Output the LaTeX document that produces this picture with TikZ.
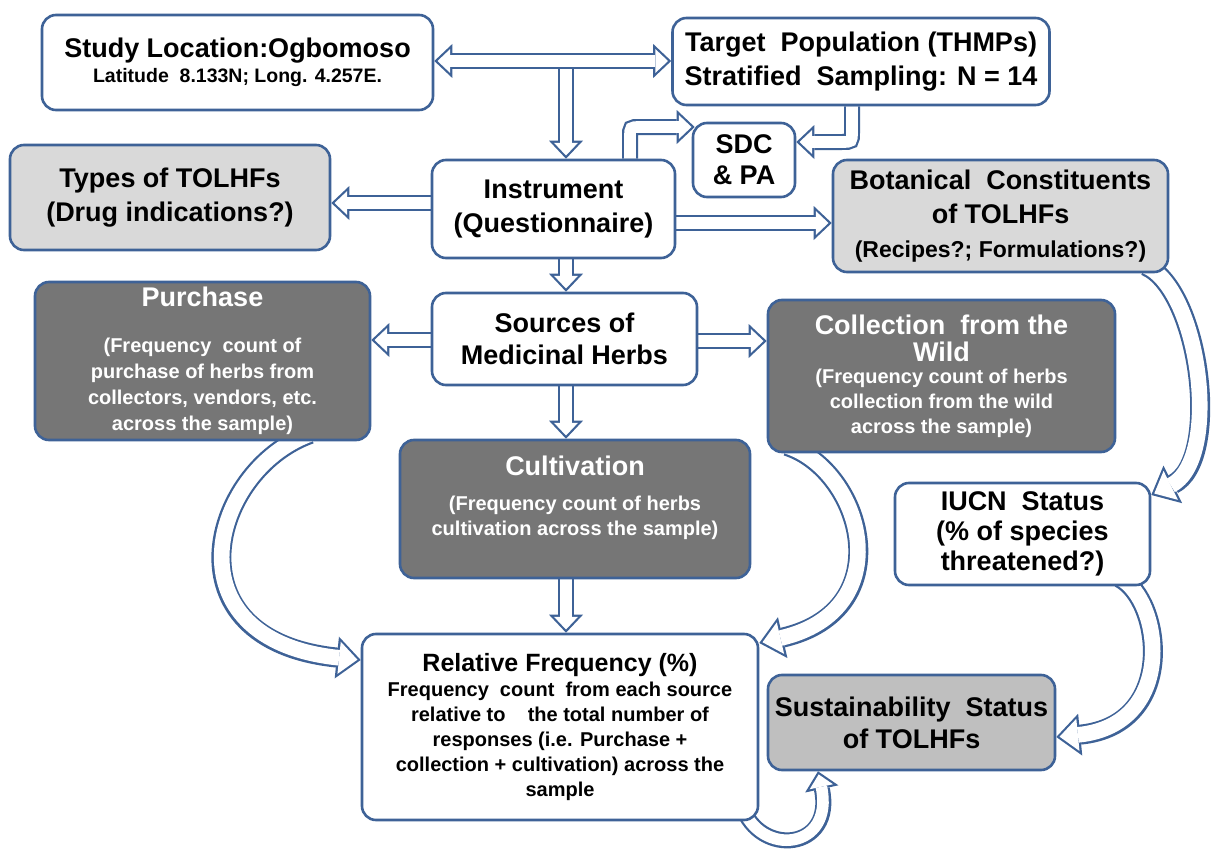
\documentclass[tikz,border=0pt]{standalone}
\usepackage{fontspec}
\setmainfont{Liberation Sans}
\usetikzlibrary{arrows.meta}

\pgfdeclarelayer{bg}
\pgfsetlayers{bg,main}

\definecolor{boxblue}{HTML}{3E6297}
\definecolor{darkbox}{HTML}{767676}
\definecolor{lightbox}{HTML}{D9D9D9}
\definecolor{midbox}{HTML}{BFBFBF}

\newcommand{\fsA}{\fontsize{27}{34}\selectfont}
\newcommand{\fsB}{\fontsize{20}{25}\selectfont}
\newcommand{\fsC}{\fontsize{19.5}{24}\selectfont}
\newcommand{\fsD}{\fontsize{23}{28}\selectfont}
\newcommand{\fsE}{\fontsize{25}{30}\selectfont}

\tikzset{
  blk/.style={draw=boxblue, line width=16pt},
  blkin/.style={draw=white, line width=11.6pt},
  tipout/.style={-{Triangle[length=18pt,width=34pt,line width=0pt]}},
  tipin/.style={shorten >=3.2pt, -{Triangle[length=12.6pt,width=23.8pt,line width=0pt]}},
  tipsout/.style={{Triangle[length=18pt,width=34pt,line width=0pt]}-{Triangle[length=18pt,width=34pt,line width=0pt]}},
  tipsin/.style={shorten >=3.2pt, shorten <=3.2pt,
    {Triangle[length=12.6pt,width=23.8pt,line width=0pt]}-{Triangle[length=12.6pt,width=23.8pt,line width=0pt]}},
  cblk/.style={draw=boxblue, line width=20pt, -{Triangle[length=24pt,width=42pt,line width=0pt]}},
  cblkin/.style={draw=white, line width=15.6pt, shorten >=3.3pt,
    -{Triangle[length=18.4pt,width=32.3pt,line width=0pt]}},
}
\newcommand{\blkarrow}[1]{\draw[blk,tipout] #1; \draw[blkin,tipin] #1;}
\newcommand{\blkboth}[1]{\draw[blk,tipsout] #1; \draw[blkin,tipsin] #1;}
\newcommand{\curvarrow}[1]{\draw[cblk] #1; \draw[cblkin] #1;}

\begin{document}
\begin{tikzpicture}[x=1pt, y=-1pt]
  \useasboundingbox (0,0) rectangle (1211,851);

  \begin{scope}[every node/.style={draw=boxblue, line width=2.6pt, rounded corners=14pt,
      fill=white, inner sep=0pt, align=center, font=\bfseries\fsA}]
    \node[minimum width=391pt, minimum height=95pt, font=\bfseries\fsB] (study) at (237.5,62.5)
      {{\fsA Study Location:Ogbomoso}\\{\fsC Latitude\ \ 8.133N; Long. 4.257E.}};
    \node[minimum width=377pt, minimum height=87pt] (target) at (861,61.5)
      {Target\ \ Population (THMPs)\\Stratified\ \ Sampling: N = 14};
    \node[minimum width=102pt, minimum height=74pt, font=\bfseries\fontsize{27}{31}\selectfont] (sdc) at (744,160)
      {SDC\\\& PA};
    \node[minimum width=320pt, minimum height=105pt, fill=lightbox] (types) at (170,197.5)
      {Types of TOLHFs\\(Drug indications?)};
    \node[minimum width=243pt, minimum height=98pt] (inst) at (553.5,209)
      {Instrument\\(Questionnaire)};
    \node[minimum width=335pt, minimum height=112pt, fill=lightbox] (bot) at (1000.5,216)
      {Botanical\ \ Constituents\\of TOLHFs\\{\fsD (Recipes?; Formulations?)}};
    \node[minimum width=265pt, minimum height=92pt, font=\bfseries\fontsize{27}{32}\selectfont] (src) at (564.5,339)
      {Sources of\\Medicinal Herbs};
    \node[minimum width=335pt, minimum height=158pt, fill=darkbox, text=white,
        font=\bfseries\fontsize{20}{26}\selectfont] (purch) at (202.5,361)
      {{\fsA Purchase}\\[20pt](Frequency\ \ count of\\purchase of herbs from\\collectors, vendors, etc.\\across the sample)};
    \node[minimum width=347pt, minimum height=152pt, fill=darkbox, text=white, font=\bfseries\fsB] (coll) at (941.5,376)
      {{\fsA Collection\ \ from the}\\[2pt]{\fsA Wild}\\[-3pt](Frequency count of herbs\\collection from the wild\\across the sample)};
    \node[minimum width=350pt, minimum height=138pt, fill=darkbox] (cult) at (575,509) {};
    \node[minimum width=396pt, minimum height=186pt, font=\bfseries\fsB] (relf) at (560,727)
      {{\fsE Relative Frequency (\%)}\\Frequency\ \ count\ \ from each source\\relative to\ \ \ \ the total number of\\responses (i.e. Purchase +\\collection + cultivation) across the\\sample};
    \node[minimum width=255pt, minimum height=102pt, font=\bfseries\fontsize{27}{30}\selectfont] (iucn) at (1022.5,534)
      {IUCN\ \ Status\\(\% of species\\threatened?)};
    \node[minimum width=287pt, minimum height=95pt, fill=midbox, font=\bfseries\fontsize{27}{32}\selectfont] (sust) at (911.5,722.5)
      {Sustainability\ \ Status\\of TOLHFs};
  \end{scope}

  \node[align=center, text=white, font=\bfseries\fsB] (culttxt) at (575,498)
    {{\fsA Cultivation}\\[10pt](Frequency count of herbs\\cultivation across the sample)};

  \begin{pgfonlayer}{bg}
    \fill[white] (0,0) rectangle (1211,851);
    \coordinate (spine) at (566,61);
    \coordinate (purchtail) at (310,434);
    \coordinate (colltail) at (787,446);
    \coordinate (bottail) at (1146,266);
    \coordinate (iucntail) at (1120,578);
    \coordinate (relftail) at (742,806);

    \blkarrow{(spine) -- (spine |- inst.north)}
    \blkboth{(study.east |- spine) -- (target.west |- spine)}
    \blkarrow{(inst.north -| 630,0) -- (630,137) .. controls (630,127) .. (640,127) -- ([xshift=3pt]sdc.west |- 0,127)}
    \blkarrow{(target.south -| 852,0) -- (852,132) .. controls (852,142) .. (842,142) -- (sdc.east |- 0,142)}
    \blkarrow{(inst.west |- 0,203) -- (types.east |- 0,203)}
    \blkarrow{(inst.east |- 0,223) -- (bot.west |- 0,223)}
    \blkarrow{(inst.south -| spine) -- (src.north -| spine)}
    \blkarrow{(src.west |- 0,340) -- (purch.east |- 0,340)}
    \blkarrow{(src.east |- 0,341) -- (coll.west |- 0,341)}
    \blkarrow{(src.south -| spine) -- (cult.north -| spine)}
    \blkarrow{(cult.south -| spine) -- (relf.north -| spine)}

    \curvarrow{(purchtail) .. controls (210,470) and (165,640) .. (relf.west |- 0,660)}
    \curvarrow{(colltail) .. controls (862,470) and (902,610) .. (relf.east |- 0,643)}
    \curvarrow{(bottail) .. controls (1200,290) and (1222,460) .. (iucn.east |- 0,495)}
    \curvarrow{(iucntail) .. controls (1162,600) and (1178,725) .. (sust.east |- 0,737)}
    \blkarrow{(relftail) .. controls (760,858) and (835,850) .. (sust.south -| 818,0)}
  \end{pgfonlayer}

\end{tikzpicture}
\end{document}
